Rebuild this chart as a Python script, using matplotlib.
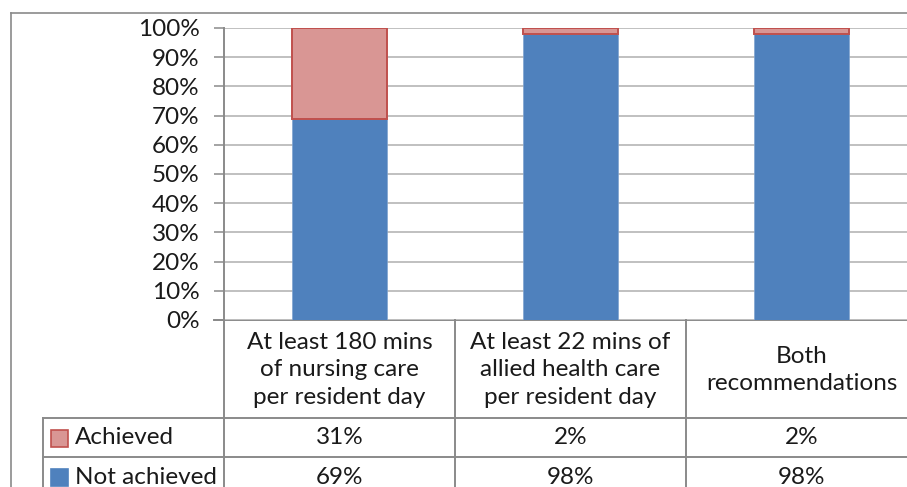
import matplotlib
matplotlib.use("Agg")
import matplotlib.pyplot as plt
from matplotlib.transforms import blended_transform_factory
from matplotlib.patches import Rectangle

categories = ["At least 180 mins\nof nursing care\nper resident day",
              "At least 22 mins of\nallied health care\nper resident day",
              "Both\nrecommendations"]
series_names = ["Achieved", "Not achieved"]
achieved = [31, 2, 2]
not_achieved = [69, 98, 98]
yticks = [0, 10, 20, 30, 40, 50, 60, 70, 80, 90, 100]

W, H = 907, 487
FONT = "Lato"
FS = 17.5
TXT = "#1a1a1a"
GRID = "#c0c0c0"
FRAME = "#8a8a8a"
BLUE = "#4F81BD"
PINK = "#D99694"
RED = "#C0504D"

fig = plt.figure(figsize=(W / 100, H / 100), dpi=100)
fig.patch.set_facecolor("white")

def fx(px):
    return px / W

def fy(py):
    return 1 - py / H

# overlay axes in pixel coordinates (top-left origin)
ov = fig.add_axes([0, 0, 1, 1], zorder=0)
ov.set_xlim(0, W)
ov.set_ylim(H, 0)
ov.axis("off")

# main axes
left, right, top, bottom = 224, 917, 28, 320
ax = fig.add_axes([fx(left), fy(bottom), fx(right - left), (bottom - top) / H], zorder=1)
ax.patch.set_alpha(0)
x = list(range(len(categories)))
ax.bar(x, not_achieved, width=0.41, color=BLUE, edgecolor="#7fa3d0", linewidth=0.5, zorder=3)
ax.bar(x, achieved, width=0.41, bottom=not_achieved, color=PINK, edgecolor=RED, linewidth=1.4, zorder=3)
ax.set_xlim(-0.5, len(categories) - 0.5)
ax.set_ylim(0, 100)
ax.set_yticks(yticks)
ax.set_yticklabels([f"{v}%" for v in yticks], fontsize=FS, family=FONT, color=TXT)
ax.tick_params(axis="y", length=7.5, width=1.1, color=FRAME, pad=10)
ax.set_xticks([])
ax.yaxis.grid(True, color=GRID, linewidth=1.4, zorder=0)
ax.set_axisbelow(True)
for s in ["top", "right", "bottom"]:
    ax.spines[s].set_visible(False)
ax.spines["left"].set_color(FRAME)
ax.spines["left"].set_linewidth(1.4)

# outer chart frame
ov.plot([11, 11], [13, H + 5], color=FRAME, lw=1.2, clip_on=False)
ov.plot([11, W + 5], [13, 13], color=FRAME, lw=1.2, clip_on=False)

# data table
tr = blended_transform_factory(ax.transData, ov.transData)
bounds = [i - 0.5 for i in range(len(categories) + 1)]
row_y = [bottom, 418, 457, 497]
ov.plot([214, W + 10], [bottom, bottom], color=FRAME, lw=1.4, clip_on=False)
for yy in row_y[1:3]:
    ov.plot([43, W + 10], [yy, yy], color=FRAME, lw=1.4, clip_on=False)
for b in bounds:
    ax.plot([b, b], [bottom, H + 10], transform=tr, color=FRAME, lw=1.4, clip_on=False)
ov.plot([43, 43], [row_y[1], H + 10], color=FRAME, lw=1.4, clip_on=False)

# header text
for i, cat in enumerate(categories):
    ov.text(i, (row_y[0] + row_y[1]) / 2 + 1, cat, transform=tr, ha="center", va="center",
            fontsize=FS, family=FONT, color=TXT, linespacing=1.38)

# value rows
rows = [(series_names[0], achieved, PINK, RED), (series_names[1], not_achieved, BLUE, BLUE)]
for r, (name, vals, fc, ec) in enumerate(rows):
    yc = (row_y[r + 1] + row_y[r + 2]) / 2
    ov.add_patch(Rectangle((51, yc - 8), 17, 17, facecolor=fc, edgecolor=ec, lw=1.2))
    ov.text(75, yc, name, ha="left", va="center", fontsize=FS, family=FONT, color=TXT)
    for i, v in enumerate(vals):
        ov.text(i, yc, f"{v}%", transform=tr, ha="center", va="center",
                fontsize=FS, family=FONT, color=TXT)

fig.savefig("out.png", dpi=100, facecolor="white")
